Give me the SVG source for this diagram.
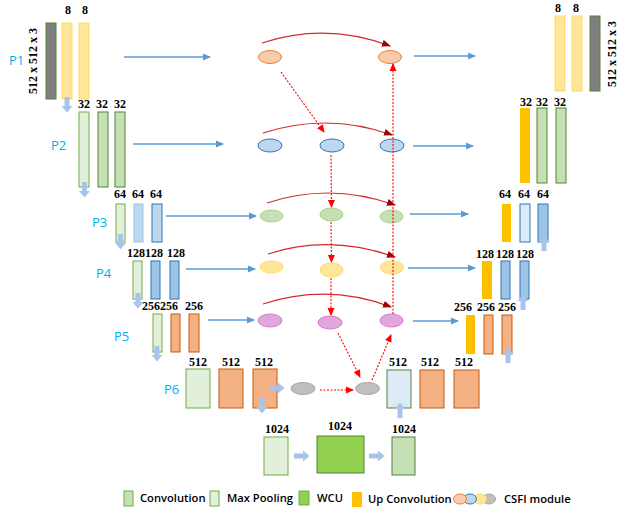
<svg xmlns="http://www.w3.org/2000/svg" width="625" height="512" viewBox="0 0 625 512">
<style>
.num{font-family:"Liberation Serif","Times New Roman",serif;font-weight:bold;font-size:12px;fill:#000;text-anchor:middle}
.plab{font-family:"Open Sans","Noto Sans",sans-serif;font-size:13px;fill:#00b0f0}
.leg{font-family:"Open Sans","Noto Sans",sans-serif;font-weight:600;font-size:11.2px;fill:#000}
.gray{fill:#7f7f7f;stroke:#548235;stroke-width:1}
.yel{fill:#ffe699;stroke:#ffd966;stroke-width:1}
.mp{fill:#e2efda;stroke:#70ad47;stroke-width:1}
.cv{fill:#c5e0b4;stroke:#548235;stroke-width:1}
.lb{fill:#bdd7ee;stroke:#9dc3e6;stroke-width:1}
.lb2{fill:#bdd7ee;stroke:#2e75b6;stroke-width:1}
.mb{fill:#9dc3e6;stroke:#2e75b6;stroke-width:1}
.xb{fill:#deebf7;stroke:#548235;stroke-width:1}
.sal{fill:#f4b183;stroke:#c55a11;stroke-width:1}
.up{fill:#ffc000;stroke:none}
.wcu{fill:#92d050;stroke:#548235;stroke-width:1}
.eo{fill:#f8cbad;stroke:#ed7d31;stroke-width:1}
.eb{fill:#bdd7ee;stroke:#2e75b6;stroke-width:1}
.eg{fill:#c5e0b4;stroke:#a9d18e;stroke-width:1}
.ey{fill:#ffe699;stroke:#ffd966;stroke-width:1}
.ep{fill:#e1a7dc;stroke:#d57bd0;stroke-width:1}
.egr{fill:#bfbfbf;stroke:#a6a6a6;stroke-width:1}
.blue{stroke:#5b9bd5;stroke-width:1.3;fill:none;marker-end:url(#mb)}
.curve{stroke:#d42a2a;stroke-width:1.2;fill:none;marker-end:url(#mr)}
.dash{stroke:#ff0000;stroke-width:1.1;fill:none;stroke-dasharray:2 1.5;marker-end:url(#md)}
.blk{fill:#a9c4eb}
</style>
<defs>
<marker id="mb" markerWidth="8" markerHeight="8" refX="7" refY="4" orient="auto" markerUnits="userSpaceOnUse"><path d="M0,0.5 L8,4 L0,7.5 z" fill="#5b9bd5"/></marker>
<marker id="mr" markerWidth="9" markerHeight="8" refX="8" refY="4" orient="auto" markerUnits="userSpaceOnUse"><path d="M0,0.5 L9,4 L0,7.5 z" fill="#a00000"/></marker>
<marker id="md" markerWidth="8" markerHeight="8" refX="7" refY="4" orient="auto" markerUnits="userSpaceOnUse"><path d="M0,0.5 L8,4 L0,7.5 z" fill="#ff0000"/></marker>
<path id="barr" class="blk" d="M-2.5,0 h5 v9 h3 l-5.5,6.5 l-5.5,-6.5 h3 z"/>
</defs>
<rect width="625" height="512" fill="#fff"/>

<g id="labels">
<text class="plab" x="9" y="65">P1</text>
<text class="plab" x="51" y="150">P2</text>
<text class="plab" x="92" y="227">P3</text>
<text class="plab" x="96" y="278">P4</text>
<text class="plab" x="114" y="341">P5</text>
<text class="plab" x="164" y="394">P6</text>
</g>

<g id="enc-p1">
<rect class="gray" x="46" y="23" width="10" height="76"/>
<rect class="yel" x="62" y="23" width="10" height="76"/>
<rect class="yel" x="79" y="23" width="10" height="76"/>
<text class="num" x="68" y="14">8</text>
<text class="num" x="85" y="14">8</text>
<text class="num" transform="translate(37,61) rotate(-90)">512 x 512 x 3</text>
</g>
<g id="enc-p2">
<rect class="mp" x="79" y="112" width="10" height="75"/>
<rect class="cv" x="98" y="112" width="10" height="75"/>
<rect class="cv" x="115" y="112" width="10" height="75"/>
<text class="num" x="84" y="108">32</text>
<text class="num" x="102" y="108">32</text>
<text class="num" x="120" y="108">32</text>
</g>
<g id="enc-p3">
<rect class="mp" x="116" y="204" width="9" height="38"/>
<rect class="lb" x="134" y="204" width="9" height="38"/>
<rect class="lb2" x="152" y="204" width="10" height="38"/>
<text class="num" x="120" y="198">64</text>
<text class="num" x="138" y="198">64</text>
<text class="num" x="156" y="198">64</text>
</g>
<g id="enc-p4">
<rect class="mp" x="133" y="261" width="9" height="38"/>
<rect class="mb" x="151" y="261" width="9" height="38"/>
<rect class="mb" x="170" y="261" width="9" height="38"/>
<text class="num" x="136" y="257">128</text>
<text class="num" x="154" y="257">128</text>
<text class="num" x="176" y="257">128</text>
</g>
<g id="enc-p5">
<rect class="mp" x="153" y="314" width="9" height="38"/>
<rect class="sal" x="171" y="314" width="9" height="38"/>
<rect class="sal" x="189" y="314" width="10" height="38"/>
<text class="num" x="151" y="310">256</text>
<text class="num" x="169" y="310">256</text>
<text class="num" x="194" y="310">256</text>
</g>
<g id="enc-p6">
<rect class="mp" x="186" y="369" width="24" height="39"/>
<rect class="sal" x="219" y="369" width="24" height="39"/>
<rect class="sal" x="253" y="369" width="24" height="39"/>
<text class="num" x="198" y="366">512</text>
<text class="num" x="231" y="366">512</text>
<text class="num" x="264" y="366">512</text>
</g>

<g id="bottom-mp">
<rect class="mp" x="264" y="437" width="24" height="38"/>
<text class="num" x="277" y="433">1024</text>
</g>
<g id="wcu">
<rect class="wcu" x="317" y="436" width="47" height="37"/>
<text class="num" x="340" y="430">1024</text>
</g>
<g id="bottom-cv">
<rect class="cv" x="392" y="437" width="23" height="38"/>
<text class="num" x="404" y="433">1024</text>
</g>

<g id="dec-p6">
<rect class="xb" x="387" y="370" width="24" height="38"/>
<rect class="sal" x="420" y="370" width="24" height="38"/>
<rect class="sal" x="454" y="370" width="25" height="38"/>
<text class="num" x="398" y="366">512</text>
<text class="num" x="430" y="366">512</text>
<text class="num" x="464" y="366">512</text>
</g>
<g id="dec-p5">
<rect class="up" x="466" y="315" width="9" height="39"/>
<rect class="sal" x="484" y="315" width="9" height="39"/>
<rect class="sal" x="502" y="315" width="10" height="39"/>
<text class="num" x="463" y="311">256</text>
<text class="num" x="486" y="311">256</text>
<text class="num" x="507" y="311">256</text>
</g>
<g id="dec-p4">
<rect class="up" x="482" y="261" width="10" height="38"/>
<rect class="mb" x="501" y="261" width="9" height="38"/>
<rect class="mb" x="520" y="261" width="9" height="38"/>
<text class="num" x="485" y="258">128</text>
<text class="num" x="505" y="258">128</text>
<text class="num" x="525" y="258">128</text>
</g>
<g id="dec-p3">
<rect class="up" x="502" y="204" width="9" height="38"/>
<rect class="lb2" x="520" y="204" width="10" height="38" style="fill:#deebf7"/>
<rect class="mb" x="538" y="204" width="10" height="38"/>
<text class="num" x="505" y="198">64</text>
<text class="num" x="524" y="198">64</text>
<text class="num" x="543" y="198">64</text>
</g>
<g id="dec-p2">
<rect class="up" x="520" y="108" width="10" height="75"/>
<rect class="cv" x="537" y="108" width="10" height="75"/>
<rect class="cv" x="556" y="108" width="10" height="75"/>
<text class="num" x="526" y="106">32</text>
<text class="num" x="542" y="106">32</text>
<text class="num" x="560" y="106">32</text>
</g>
<g id="dec-p1">
<rect class="yel" x="555" y="16" width="10" height="75"/>
<rect class="yel" x="572" y="16" width="10" height="75"/>
<rect class="gray" x="590" y="16" width="10" height="75"/>
<text class="num" x="558" y="12">8</text>
<text class="num" x="576" y="12">8</text>
<text class="num" transform="translate(616,54) rotate(-90)">512 x 512 x 3</text>
</g>

<g id="csfi-p1"><ellipse class="eo" cx="270" cy="57" rx="11.5" ry="6.5"/><ellipse class="eo" cx="390" cy="57" rx="11.5" ry="6.5"/></g>
<g id="csfi-p2"><ellipse class="eb" cx="270" cy="145.5" rx="12" ry="6.5"/><ellipse class="eb" cx="332" cy="145.5" rx="12" ry="6.5"/><ellipse class="eb" cx="392" cy="145.5" rx="12" ry="6.5"/></g>
<g id="csfi-p3"><ellipse class="eg" cx="271.5" cy="216" rx="11.5" ry="6"/><ellipse class="eg" cx="331.5" cy="214.5" rx="11.5" ry="6.5"/><ellipse class="eg" cx="391.5" cy="216.5" rx="11.5" ry="6.5"/></g>
<g id="csfi-p4"><ellipse class="ey" cx="271.5" cy="267" rx="11.5" ry="6"/><ellipse class="ey" cx="331.5" cy="270" rx="11.5" ry="7"/><ellipse class="ey" cx="392" cy="267.5" rx="11.5" ry="6.5"/></g>
<g id="csfi-p5"><ellipse class="ep" cx="270" cy="320.5" rx="12" ry="6.5"/><ellipse class="ep" cx="330" cy="322.5" rx="12" ry="6.5"/><ellipse class="ep" cx="391.5" cy="320.5" rx="11.5" ry="6.5"/></g>
<g id="csfi-p6"><ellipse class="egr" cx="303" cy="388.5" rx="12" ry="6"/><ellipse class="egr" cx="367.5" cy="388.5" rx="12" ry="6"/></g>

<g id="connectors">
<line class="blue" x1="124" y1="57" x2="210" y2="57"/>
<line class="blue" x1="414" y1="56" x2="475" y2="56"/>
<line class="blue" x1="133" y1="144" x2="223" y2="144"/>
<line class="blue" x1="413" y1="146" x2="473" y2="146"/>
<line class="blue" x1="166" y1="216" x2="256" y2="216"/>
<line class="blue" x1="410" y1="214" x2="468" y2="214"/>
<line class="blue" x1="186" y1="269" x2="255" y2="269"/>
<line class="blue" x1="408" y1="268" x2="475" y2="268"/>
<line class="blue" x1="208" y1="320" x2="254" y2="320"/>
<line class="blue" x1="413" y1="321" x2="458" y2="321"/>

<path class="curve" d="M262,43 Q326,22 390,46"/>
<path class="curve" d="M263,133 Q328,112 392,135"/>
<path class="curve" d="M267,203 Q330,182 395,205"/>
<path class="curve" d="M268,254 Q330,234 395,257"/>
<path class="curve" d="M263,304 Q328,283 391,307"/>

<line class="dash" x1="281" y1="72" x2="324" y2="132"/>
<line class="dash" x1="331" y1="155" x2="331.5" y2="207"/>
<line class="dash" x1="331" y1="222" x2="331.5" y2="262"/>
<line class="dash" x1="331" y1="278" x2="331" y2="315"/>
<line class="dash" x1="338" y1="333" x2="360" y2="377"/>
<line class="dash" x1="320" y1="390" x2="353" y2="390"/>
<line class="dash" x1="372" y1="380" x2="391" y2="335"/>
<line class="dash" x1="393" y1="314" x2="393" y2="64"/>

<use href="#barr" x="67" y="97"/>
<use href="#barr" x="84.5" y="182"/>
<use href="#barr" x="120.5" y="234"/>
<use href="#barr" x="138" y="293"/>
<use href="#barr" x="157" y="346"/>
<use href="#barr" x="262" y="398"/>
<use href="#barr" transform="translate(269,388) rotate(-90)"/>
<use href="#barr" transform="translate(294,456) rotate(-90)"/>
<use href="#barr" transform="translate(369,456) rotate(-90)"/>
<use href="#barr" transform="translate(400,418) rotate(180)"/>
<use href="#barr" transform="translate(508,363) rotate(180)"/>
<use href="#barr" transform="translate(523,310) rotate(180)"/>
<use href="#barr" transform="translate(544,251) rotate(180)"/>
</g>

<g id="legend">
<rect class="cv" x="124" y="491" width="9" height="15" style="stroke:#70ad47"/>
<text class="leg" x="140" y="502">Convolution</text>
<rect class="mp" x="210" y="491" width="9" height="15"/>
<text class="leg" x="227" y="502">Max Pooling</text>
<rect class="wcu" x="299" y="491" width="10" height="14" style="stroke:#70ad47"/>
<text class="leg" x="317" y="502">WCU</text>
<rect class="up" x="352" y="492" width="10" height="15"/>
<text class="leg" x="368" y="503">Up Convolution</text>
<ellipse cx="489" cy="499" rx="6.5" ry="5" class="egr"/>
<ellipse cx="480" cy="499" rx="6.5" ry="5" class="ey"/>
<ellipse cx="470" cy="499" rx="6.5" ry="5" class="eb"/>
<ellipse cx="460" cy="499" rx="6.5" ry="5" class="eo"/>
<text class="leg" x="504" y="503">CSFI module</text>
</g>
</svg>
